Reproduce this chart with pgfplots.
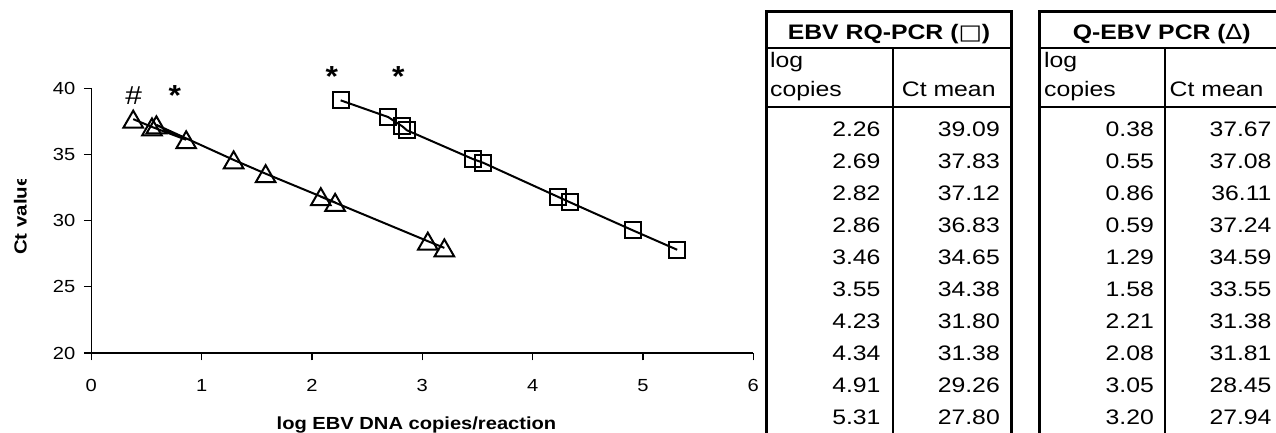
\documentclass[border=0pt]{standalone}
\usepackage{graphicx}
\usepackage{pgfplots}
\usepackage{pgfplotstable}
\pgfplotsset{compat=1.18}
\usepackage{fontspec}
\setmainfont{Liberation Sans}
\newfontfamily\symf{DejaVu Sans}
% the reference text is stretched sideways
\newcommand\sx[1]{\scalebox{1.15}[1]{#1}}
\newcommand\tx[1]{\scalebox{1.18}[1]{#1}}

% EBV RQ-PCR (squares)
\pgfplotstableread{
lc   ct
2.26 39.09
2.69 37.83
2.82 37.12
2.86 36.83
3.46 34.65
3.55 34.38
4.23 31.80
4.34 31.38
4.91 29.26
5.31 27.80
}\rqpcr
% Q-EBV PCR (triangles)
\pgfplotstableread{
lc   ct
0.38 37.67
0.55 37.08
0.86 36.11
0.59 37.24
1.29 34.59
1.58 33.55
2.21 31.38
2.08 31.81
3.05 28.45
3.20 27.94
}\qebv

\begin{document}
\begin{tikzpicture}[x=1pt,y=1pt]
\useasboundingbox (0,0) rectangle (1276,433);

\begin{axis}[
    at={(91.3pt,80pt)}, anchor=south west,
    scale only axis, width=662pt, height=264.7pt,
    xmin=0, xmax=6, ymin=20, ymax=40,
    axis x line*=bottom, axis y line*=left,
    xtick={0,1,...,6}, ytick={20,25,...,40},
    minor tick num=0,
    tick align=outside, major tick length=7.5pt,
    axis line style={line width=1.1pt},
    tick style={line width=1.1pt, black},
    ticklabel style={font=\fontsize{17.5}{19}\selectfont},
    xticklabel style={yshift=-15pt},
    yticklabel style={xshift=-5pt},
    xticklabel={\sx{\pgfmathprintnumber[assume math mode=true]{\tick}}},
    yticklabel={\sx{\pgfmathprintnumber[assume math mode=true]{\tick}}},
    clip=false,
  ]
  \addplot[black, line width=2pt, mark=square, mark size=8pt,
    mark options={line width=2.1pt, solid}] table[x=lc, y=ct] {\rqpcr};
  \addplot[black, line width=2pt, mark=triangle, mark size=11.3pt,
    mark options={line width=2pt, solid, yshift=-2.8pt}] table[x=lc, y=ct] {\qebv};

  \node[anchor=north, inner sep=0, font=\fontsize{26}{26}\selectfont]
    at (axis cs:0.385,40.17) {\scalebox{1.15}[1]{\#}};
  \node[anchor=north, inner sep=0, font=\bfseries\fontsize{29}{29}\selectfont]
    at (axis cs:0.756,40.25) {\scalebox{1.1}[1]{*}};
  \node[anchor=north, inner sep=0, font=\bfseries\fontsize{29}{29}\selectfont]
    at (axis cs:2.181,41.68) {\scalebox{1.1}[1]{*}};
  \node[anchor=north, inner sep=0, font=\bfseries\fontsize{29}{29}\selectfont]
    at (axis cs:2.783,41.68) {\scalebox{1.1}[1]{*}};
\end{axis}

% axis titles
\node[anchor=base, inner sep=0, font=\bfseries\fontsize{17.5}{19}\selectfont]
  at (416.5,3) {\sx{log EBV DNA copies/reaction}};
\begin{scope}
  \clip (0,0) rectangle (60,253);
  \node[rotate=90, anchor=base west, inner sep=0, font=\bfseries\fontsize{17.5}{19}\selectfont]
    at (26.5,178) {\scalebox{1.17}[1]{Ct value}};
\end{scope}

% the two tables
\draw[line width=3.2pt, line join=miter] (766.5,-5) -- (766.5,421.7) -- (1011.7,421.7) -- (1011.7,-5);
\draw[line width=3.2pt, line join=miter] (1039.3,-5) -- (1039.3,421.7) -- (1290,421.7);
\draw[line width=2pt] (766.5,384.7) -- (1011.7,384.7) (766.5,325.7) -- (1011.7,325.7);
\draw[line width=2pt] (1039.3,384.7) -- (1290,384.7) (1039.3,325.7) -- (1290,325.7);
\draw[line width=2pt] (892.7,384.7) -- (892.7,-5) (1165,384.7) -- (1165,-5);

\begin{scope}[every node/.style={inner sep=0, font=\fontsize{21}{23}\selectfont}]
  \node[anchor=base, font=\bfseries\fontsize{21}{23}\selectfont] at (889,393.7)
    {\tx{EBV RQ-PCR ({\symf\mdseries □})}};
  \node[anchor=base, font=\bfseries\fontsize{21}{23}\selectfont] at (1161.7,393.7)
    {\tx{Q-EBV PCR ({\symf\mdseries ∆})}};
  \node[anchor=base west] at (770,365) {\tx{log}};
  \node[anchor=base west] at (770,336) {\tx{copies}};
  \node[anchor=base west] at (901.7,336) {\tx{Ct mean}};
  \node[anchor=base west] at (1044,365) {\tx{log}};
  \node[anchor=base west] at (1044,336) {\tx{copies}};
  \node[anchor=base west] at (1169.5,336) {\tx{Ct mean}};
  \foreach \a/\b [count=\i from 0] in {2.26/39.09, 2.69/37.83, 2.82/37.12,
      2.86/36.83, 3.46/34.65, 3.55/34.38, 4.23/31.80, 4.34/31.38, 4.91/29.26, 5.31/27.80} {
    \node[anchor=base east] at (880.7,296.3-32*\i) {\tx{\a}};
    \node[anchor=base east] at (1000,296.3-32*\i) {\tx{\b}};
  }
  \foreach \a/\b [count=\i from 0] in {0.38/37.67, 0.55/37.08, 0.86/36.11,
      0.59/37.24, 1.29/34.59, 1.58/33.55, 2.21/31.38, 2.08/31.81, 3.05/28.45, 3.20/27.94} {
    \node[anchor=base east] at (1154,296.3-32*\i) {\tx{\a}};
    \node[anchor=base east] at (1271.7,296.3-32*\i) {\tx{\b}};
  }
\end{scope}
\end{tikzpicture}
\end{document}
